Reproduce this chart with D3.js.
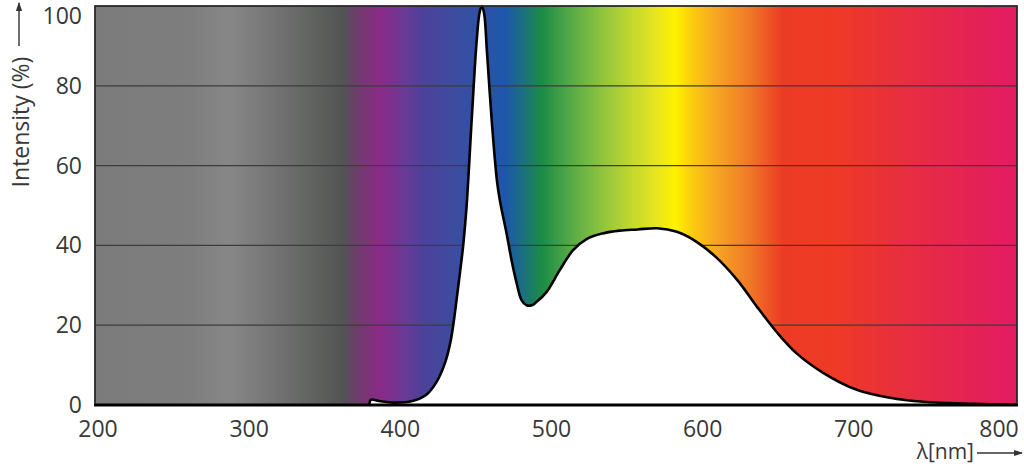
<!DOCTYPE html>
<html>
<head>
<meta charset="utf-8">
<script src="https://cdn.jsdelivr.net/npm/d3@7"></script>
<style>
  html, body { margin: 0; padding: 0; background: #fff; }
  svg text { font-family: "Open Sans", "DejaVu Sans", sans-serif; fill: #383838; }
</style>
</head>
<body>
<div id="chart"></div>
<script>
// spectrum of the lamp, wavelength (nm) and relative intensity (%)
const wavelengths = [198, 379.5, 380.5, 386, 395, 408, 417, 424, 429.5, 433, 435, 437.2, 439.4, 441.6, 443.8,
  447.3, 450.6, 452.5, 454, 455.5, 457.3, 460.6, 464, 466, 470.3, 473.6, 477, 480.2, 483.5, 487, 490,
  496.7, 505.5, 514.3, 523.2, 534, 545, 557, 570, 583, 596, 609, 623, 636, 649, 662, 680, 702, 724,
  746, 779, 808];
const intensity = [0, 0, 1.3, 1.0, 0.6, 1.0, 2.5, 5.8, 10.5, 15.5, 20, 26.3, 33, 40, 49.6,
  72, 91.7, 98.5, 100, 98, 88.7, 70.7, 56, 51, 43, 36.3, 30.5, 26.3, 25, 25, 25.8,
  28.3, 33.8, 38.8, 41.6, 43, 43.7, 44, 44.3, 43.4, 40.9, 37, 31.3, 24.6, 18.3, 13, 8, 3.8, 1.8,
  0.8, 0.3, 0.1];

// background colour band behind the chart
const bandNm = [198, 261, 287, 316, 340, 362, 371, 386.5, 404, 415, 437, 464, 469, 479, 494, 510, 532,
  554, 570, 582, 594, 609, 631, 653, 686, 730, 764, 808];
const bandColors = ['#7b7b7b', '#7e7e7e', '#868786', '#737473', '#626462', '#525453', '#6d3d6c', '#8a2a87',
  '#663b96', '#4d419a', '#3b4d9f', '#2455a9', '#1e56ab', '#1b6b88', '#1c8c45', '#4ea647', '#8bc23f',
  '#c5d92d', '#e9e61f', '#fff100', '#fbc910', '#f6a622', '#f07827', '#ec3b24', '#ee3a25', '#e82f3d',
  '#e5264e', '#e31b63'];

const xTicks = [200, 300, 400, 500, 600, 700, 800];
const yTicks = [0, 20, 40, 60, 80, 100];
const gridLevels = [20, 40, 60, 80];

const W = 1024, H = 469;
const margin = { left: 95, right: 7, top: 6, bottom: 64 };

const x = d3.scaleLinear().domain([198, 808]).range([margin.left, W - margin.right]);
const y = d3.scaleLinear().domain([0, 100]).range([H - margin.bottom, margin.top]);

const svg = d3.select('#chart').append('svg')
  .attr('width', W)
  .attr('height', H);

const defs = svg.append('defs');
const grad = defs.append('linearGradient')
  .attr('id', 'spectrum')
  .attr('gradientUnits', 'userSpaceOnUse')
  .attr('x1', x(198)).attr('x2', x(808))
  .attr('y1', 0).attr('y2', 0);
grad.selectAll('stop')
  .data(bandNm)
  .enter()
  .append('stop')
  .attr('offset', d => (x(d) - x(198)) / (x(808) - x(198)))
  .attr('stop-color', (d, i) => bandColors[i]);

// spectrum band
svg.append('rect')
  .attr('x', x(198))
  .attr('y', y(100))
  .attr('width', x(808) - x(198))
  .attr('height', y(0) - y(100))
  .attr('fill', 'url(#spectrum)');

// grid lines
svg.selectAll('.grid')
  .data(gridLevels)
  .enter()
  .append('line')
  .attr('class', 'grid')
  .attr('x1', x(198)).attr('x2', x(808))
  .attr('y1', d => y(d)).attr('y2', d => y(d))
  .attr('stroke', '#3c3c3c')
  .attr('stroke-width', 1.3);

const pts = wavelengths.map((w, i) => [w, intensity[i]]);
const curve = d3.curveCatmullRom.alpha(0.5);

const area = d3.area()
  .x(d => x(d[0]))
  .y0(y(0))
  .y1(d => y(Math.max(d[1], 0)))
  .curve(curve);

const line = d3.line()
  .x(d => x(d[0]))
  .y(d => y(d[1]))
  .curve(curve);

svg.append('path')
  .datum(pts)
  .attr('fill', '#fff')
  .attr('d', area);

svg.append('path')
  .datum(pts.filter(d => d[0] >= 379.5))
  .attr('fill', 'none')
  .attr('stroke', '#000')
  .attr('stroke-width', 2.6)
  .attr('stroke-linejoin', 'round')
  .attr('d', line);

// frame
svg.append('rect')
  .attr('x', x(198))
  .attr('y', y(100))
  .attr('width', x(808) - x(198))
  .attr('height', y(0) - y(100))
  .attr('fill', 'none')
  .attr('stroke', '#2a2a2a')
  .attr('stroke-width', 1.8);

svg.append('line')
  .attr('x1', x(198) - 1).attr('x2', x(808) + 1)
  .attr('y1', y(0)).attr('y2', y(0))
  .attr('stroke', '#000')
  .attr('stroke-width', 2.8);

// y tick labels
svg.selectAll('.ylab')
  .data(yTicks)
  .enter()
  .append('text')
  .attr('class', 'ylab')
  .attr('x', x(198) - 13)
  .attr('y', d => Math.max(y(d), 16))
  .attr('dy', '0.35em')
  .attr('text-anchor', 'end')
  .style('font-size', '23px')
  .text(d => d);

// x tick labels
svg.selectAll('.xlab')
  .data(xTicks)
  .enter()
  .append('text')
  .attr('class', 'xlab')
  .attr('x', d => Math.min(x(d), 999))
  .attr('y', y(0) + 32)
  .attr('text-anchor', 'middle')
  .style('font-size', '23px')
  .text(d => d);

// axis titles with arrows
defs.append('marker')
  .attr('id', 'arrow')
  .attr('viewBox', '0 0 10 10')
  .attr('refX', 9).attr('refY', 5)
  .attr('markerWidth', 9).attr('markerHeight', 9)
  .attr('markerUnits', 'userSpaceOnUse')
  .attr('orient', 'auto')
  .append('path')
  .attr('d', 'M0,1.5 L10,5 L0,8.5 Z')
  .attr('fill', '#333');

svg.append('text')
  .attr('transform', 'translate(29,122) rotate(-90)')
  .attr('text-anchor', 'middle')
  .style('font-size', '23px')
  .text('Intensity (%)');

svg.append('line')
  .attr('x1', 19).attr('x2', 19)
  .attr('y1', 46).attr('y2', 3)
  .attr('stroke', '#333')
  .attr('stroke-width', 1.4)
  .attr('marker-end', 'url(#arrow)');

svg.append('text')
  .attr('x', 974)
  .attr('y', 459)
  .attr('text-anchor', 'end')
  .style('font-size', '21px')
  .text('λ[nm]');

svg.append('line')
  .attr('x1', 977).attr('x2', 1022)
  .attr('y1', 453).attr('y2', 453)
  .attr('stroke', '#333')
  .attr('stroke-width', 1.4)
  .attr('marker-end', 'url(#arrow)');
</script>
</body>
</html>
